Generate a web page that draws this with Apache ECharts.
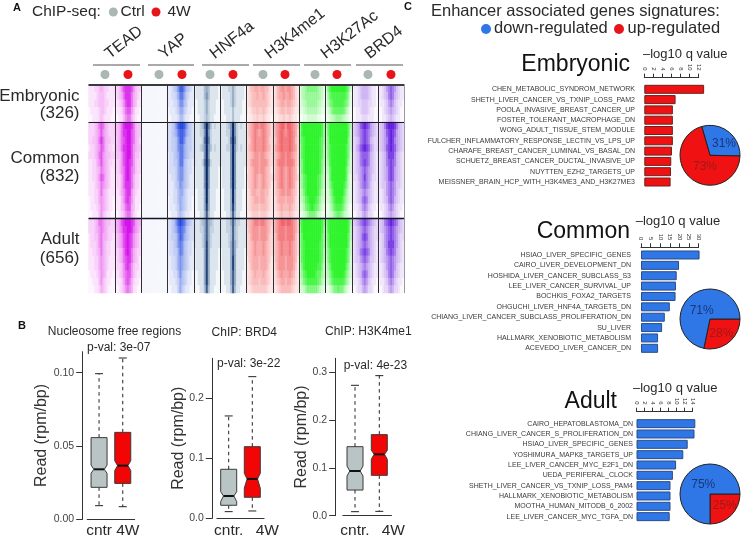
<!DOCTYPE html>
<html><head><meta charset="utf-8">
<style>html,body{margin:0;padding:0;background:#fff}#c{width:742px;height:535px}</style>
<script src="https://cdn.jsdelivr.net/npm/echarts@6/dist/echarts.min.js"></script>
</head><body><div id="c"></div>
<script>
// ---------- Panel A: heat intensity read by eye, one string per row band (0-9), rows: 5 Embryonic, 13 Common, 10 Adult
const blockRows = [5, 13, 10];
const blockNames = ['Embryonic', 'Common', 'Adult'];
const blockCounts = ['(326)', '(832)', '(656)'];
const markNames = ['TEAD', 'YAP', 'HNF4a', 'H3K4me1', 'H3K27Ac', 'BRD4'];
const TEAD_ctrl = ["1112234322111","1111233321111","1112233322111","0111123321110","0011123211100",
"2223467643222","2223457543222","2233468643322","1223457643221","2223467543322","1122457543221","1122346543211","1122357643211","1112346543211","1112246432111","0112245432110","0111235432110","0011135321100",
"2223466543322","2223456543222","1223356443221","1222356432211","1122346432211","1112245432111","1112245432111","0111235431110","0011135321100","0001124321000"];
const TEAD_4W = ["2235788875322","1234688864321","1123578864311","0112467753110","0011356642100",
"3346899986433","3346889976433","2346789976432","3346889975433","2335789975332","2235789875322","2235689865322","1224689864221","1224688864221","1124578853211","1113578753111","0113467743110","0012356642100",
"4457899987544","3456889986543","2345789875432","2345789875432","2234689864322","1234678864321","1223578753221","1123567753211","0112467642110","0012356541100"];
const YAP_ctrl = ["0000000000000","0000000000000","0000000000000","0000000000000","0000000000000",
"0000000000000","0000000000000","0000000000000","0000000000000","0000000000000","0000000000000","0000000000000","0000000000000","0000000000000","0000000000000","0000000000000","0000000000000","0000000000000",
"0000000000000","0000000000000","0000000000000","0000000000000","0000000000000","0000000000000","0000000000000","0000000000000","0000000000000","0000000000000"];
const YAP_4W = ["1123468864321","1122357753211","1112246643111","0111235532110","0011124421100",
"2234689986432","2234578875432","2233468864332","2233467754332","1223457754322","1223357743221","1222356643221","1122356643211","1112346543211","1112245532111","0112245432110","0111235432110","0011134321100",
"2234689875432","2234578764322","2233468754322","1223467643221","1223357643221","1122356543211","1122356543211","0112246432110","0111235432110","0011135321100"];
const HNF4a_ctrl = ["0111134311110","0111135311110","0011124211100","0011124211100","0001123211000",
"1112369631211","1112259521111","1111269621111","1112359531211","1111159511111","1111269621111","0111159511110","0111159511110","0111159511110","0011149411100","0011149411100","0011148411100","0001137311000",
"1112347432111","1112247422111","1111247421111","1111248421111","0111148411110","0111148411110","0111148411110","0011148411100","0011148411100","0001137311000"];
const HNF4a_4W = ["0111224211110","0111124211110","0011124211100","0011113111100","0001113111000",
"1112359521211","1112259521111","1111269621111","1112259521211","1111159511111","1111159511111","0111159511110","0111159511110","0111159511110","0011149411100","0011149411100","0011148411100","0001137311000",
"1112247422111","1112237321111","1111237321111","1111247421111","0111147411110","0111148411110","0111148411110","0011147411100","0011147411100","0001137311000"];
const H3K4me1_ctrl = ["1244554554421","1234454454321","1234444444321","1123343343211","0112232232110",
"2456776776542","2456765676542","2356766676532","2456766676542","2345665665432","2356665666532","1345665665431","2345654565432","1345654565431","1245544554421","1234554554321","1234443444321","1123332333211",
"3456776776543","2456665666542","2356665666532","2345655565432","2345655565432","1345554555431","1245554555421","1234544454321","1234443444321","1123333333211"];
const H3K4me1_4W = ["1245665665421","1245565565421","1234554554321","1123443443211","0112232232110",
"3567886887653","2567876787652","2467877787642","2567877787652","2456776776542","2467776777642","1456765676541","2456765676542","1356765676531","1345665665431","1245554555421","1234544454321","1123433343211",
"3567887887653","3567776777653","2467776777642","2456766676542","2456766676542","1456665666541","1356665666531","1245655565421","1234554554321","1123444443211"];
const H3K27Ac_ctrl = ["1345666665431","1345555555431","1234555554321","1123444443211","0011222221100",
"5899999999985","5899999999985","5789999999875","4789999999874","4789999999874","4689999999864","3689999999863","3578999998753","3578999998753","2468999998642","2357899987532","1246789876421","0123566653210",
"6899999999986","5899999999985","5799999999975","5789999999875","4789999999874","4789999999874","3689999998863","3578999987753","2467888887642","1235666665321"];
const H3K27Ac_4W = ["2689999999862","1578888888751","1467888887641","0246777776420","0123455543210",
"4799999999974","3799999999973","3699999999963","3689999999863","2689999999862","2589999999852","2479999999742","1379999999731","1368999998631","1257999997521","1246899986421","0135788875310","0123567653210",
"5899999999985","4899999999984","4799999999974","3799999999973","3689999999863","2689999999862","2579999999752","2468999998642","1357888887531","0124667664210"];
const BRD4_ctrl = ["0112344432110","0112344432110","0112233322110","0011233321100","0011122211100",
"2345789875432","2345678765432","2234678764322","2245789875422","1234677764321","1234678764321","1234567654321","1224568654221","1123567653211","1123456543211","1123467643211","0112356532110","0012245422100",
"2345678765432","2234567654322","2234578754322","1234567654321","1234678764321","1233567653321","1123456543211","1123467643211","0112356532110","0012245422100"];
const BRD4_4W = ["1123567653211","1123467643211","0112356532110","0012345432100","0011234321100",
"2346899986432","2345789875432","2345689865432","2345789875432","1234688864321","1234678764321","1234578754321","1234578754321","1233567653321","1123567653211","1123467643211","0112356532110","0012345432100",
"2346789876432","2345678765432","2235678765322","1235688865321","1234678764321","1234567654321","1123567653211","1123467643211","0112356532110","0012245422100"];
const heatPanels = [TEAD_ctrl, TEAD_4W, YAP_ctrl, YAP_4W, HNF4a_ctrl, HNF4a_4W, H3K4me1_ctrl, H3K4me1_4W, H3K27Ac_ctrl, H3K27Ac_4W, BRD4_ctrl, BRD4_4W];

// ---------- Panel B: box values [low whisker, q1, notch low, median, notch high, q3, high whisker]
const boxCats1 = ['cntr', '4W'];
const boxCats2 = ['cntr.', '4W'];
const nfr_cntr = [0.0093, 0.0218, 0.0314, 0.0341, 0.0370, 0.0557, 0.0993];
const nfr_4W   = [0.0086, 0.0245, 0.0332, 0.0366, 0.0400, 0.0593, 0.1100];
const brd4_cntr = [0.0111, 0.0217, 0.0278, 0.0372, 0.0444, 0.0817, 0.1706];
const brd4_4W   = [0.0122, 0.0350, 0.0500, 0.0656, 0.0750, 0.1194, 0.2361];
const h3k_cntr = [0.0084, 0.0537, 0.0830, 0.0935, 0.1040, 0.1444, 0.2728];
const h3k_4W   = [0.0091, 0.0844, 0.1180, 0.1284, 0.1370, 0.1696, 0.2930];
const boxTicks1 = [0, 0.05, 0.10];
const boxTicks2 = [0, 0.1, 0.2];
const boxTicks3 = [0, 0.1, 0.2, 0.3];

// ---------- Panel C
const embTerms = ['CHEN_METABOLIC_SYNDROM_NETWORK','SHETH_LIVER_CANCER_VS_TXNIP_LOSS_PAM2','POOLA_INVASIVE_BREAST_CANCER_UP','FOSTER_TOLERANT_MACROPHAGE_DN','WONG_ADULT_TISSUE_STEM_MODULE','FULCHER_INFLAMMATORY_RESPONSE_LECTIN_VS_LPS_UP','CHARAFE_BREAST_CANCER_LUMINAL_VS_BASAL_DN','SCHUETZ_BREAST_CANCER_DUCTAL_INVASIVE_UP','NUYTTEN_EZH2_TARGETS_UP','MEISSNER_BRAIN_HCP_WITH_H3K4ME3_AND_H3K27ME3'];
const embValues = [13.2, 6.9, 6.3, 6.3, 6.3, 6.3, 6.1, 5.95, 5.9, 5.8];
const comTerms = ['HSIAO_LIVER_SPECIFIC_GENES','CAIRO_LIVER_DEVELOPMENT_DN','HOSHIDA_LIVER_CANCER_SUBCLASS_S3','LEE_LIVER_CANCER_SURVIVAL_UP','BOCHKIS_FOXA2_TARGETS','OHGUCHI_LIVER_HNF4A_TARGETS_DN','CHIANG_LIVER_CANCER_SUBCLASS_PROLIFERATION_DN','SU_LIVER','HALLMARK_XENOBIOTIC_METABOLISM','ACEVEDO_LIVER_CANCER_DN'];
const comValues = [30.5, 19.8, 18.6, 18.2, 18, 15, 12.4, 11, 8.9, 8.9];
const adlTerms = ['CAIRO_HEPATOBLASTOMA_DN','CHIANG_LIVER_CANCER_S_PROLIFERATION_DN','HSIAO_LIVER_SPECIFIC_GENES','YOSHIMURA_MAPK8_TARGETS_UP','LEE_LIVER_CANCER_MYC_E2F1_DN','UEDA_PERIFERAL_CLOCK','SHETH_LIVER_CANCER_VS_TXNIP_LOSS_PAM4','HALLMARK_XENOBIOTIC_METABOLISM','MOOTHA_HUMAN_MITODB_6_2002','LEE_LIVER_CANCER_MYC_TGFA_DN'];
const adlValues = [14.7, 14.5, 12.8, 11.7, 9.9, 9.1, 8.5, 8.5, 8.5, 8.3];
const pieEmb = [31, 73];   // down, up
const pieCom = [71, 28];
const pieAdl = [75, 25];

// ---------- styles and layout
const FONT = '"Liberation Sans", Arial, sans-serif';
const INK = '#2a2a2a', GREY = '#aab7b5', RED = '#e8141c', BOXRED = '#f20505', BOXGREY = '#b9c5c5';
const BLUE = '#2f76e6', BLUEDARK = '#2c4c86', BARRED = '#f01212', REDDARK = '#6a2222';
const ramps = [['#fef6fe','#f2a4f4','#d414ea'],['#f6f7fc','#a8b8f0','#2448e4'],['#f4f8fa','#8aa4c0','#0a2566'],['#fff7f6','#f9b4b4','#ee5058'],['#f5fef5','#a8f8a8','#2ef42c'],['#fdf7fe','#c9aef2','#6420e0']];
const HX = 88.5, HW = 316, HY = 85, HH = 208, COLS = 13;

const grid = [], xAxis = [], yAxis = [], series = [], visualMap = [], graphic = [];

// heat grid
const totalRows = blockRows.reduce((a, b) => a + b, 0);
grid.push({left: HX, top: HY, width: HW, height: HH, outerBoundsMode: 'none'});
xAxis.push({type: 'category', gridIndex: 0, show: false, data: Array.from({length: COLS * heatPanels.length}, (_, i) => i)});
yAxis.push({type: 'category', gridIndex: 0, show: false, inverse: true, data: Array.from({length: totalRows}, (_, i) => i)});
heatPanels.forEach((rows, p) => {
  const data = [];
  rows.forEach((s, r) => { for (let c = 0; c < COLS; c++) data.push([p * COLS + c, r, +s[c]]); });
  series.push({type: 'heatmap', xAxisIndex: 0, yAxisIndex: 0, data, progressive: 0, z: 1, itemStyle: {borderWidth: 0}, emphasis: {disabled: true}});
  visualMap.push({show: false, seriesIndex: p, min: 0, max: 9, dimension: 2, inRange: {color: ramps[Math.floor(p / 2)]}});
});
// heat separators
grid.push({left: HX, top: HY, width: HW, height: HH, outerBoundsMode: 'none'});
xAxis.push({type: 'value', gridIndex: 1, show: false, min: 0, max: heatPanels.length});
yAxis.push({type: 'value', gridIndex: 1, show: false, inverse: true, min: 0, max: totalRows});
const vLines = heatPanels.map((_, i) => i).slice(1).map(i => ({xAxis: i, lineStyle: {color: '#2f2f33', width: 1, type: 'solid'}}));
series.push({type: 'line', xAxisIndex: 1, yAxisIndex: 1, data: [], z: 5, silent: true, markLine: {silent: true, symbol: 'none', label: {show: false}, animation: false, data: [
  {yAxis: 0, lineStyle: {color: '#3a3a3e', width: 2, type: 'solid'}},
  {yAxis: blockRows[0], lineStyle: {color: '#1a1a1e', width: 1, type: 'solid'}},
  {yAxis: blockRows[0] + blockRows[1], lineStyle: {color: '#10142a', width: 1.3, type: 'solid'}},
  {xAxis: heatPanels.length, lineStyle: {color: '#9a9a9e', width: 1, type: 'solid'}},
  ...vLines
]}});

// box plots
function boxItem(params, api) {
  const x = api.value(0);
  const v = [1,2,3,4,5,6,7].map(i => api.value(i));
  const fill = x === 0 ? BOXGREY : BOXRED;
  const P = k => api.coord([x, k]);
  const cx = P(v[3])[0], hw = 8, hn = 5.2, capw = 4;
  const y = v.map(k => P(k)[1]);
  const dash = {stroke: '#222', lineWidth: 1, lineDash: [3.5, 3.5]};
  const solid = {stroke: '#222', lineWidth: 1};
  const ln = (x1, y1, x2, y2, st) => ({type: 'line', shape: {x1, y1, x2, y2}, style: st});
  return {type: 'group', children: [
    ln(cx, y[1], cx, y[0], dash), ln(cx, y[5], cx, y[6], dash),
    ln(cx - capw, y[0], cx + capw, y[0], solid), ln(cx - capw, y[6], cx + capw, y[6], solid),
    {type: 'polygon', shape: {points: [[cx - hw, y[1]], [cx + hw, y[1]], [cx + hw, y[2]], [cx + hn, y[3]], [cx + hw, y[4]], [cx + hw, y[5]], [cx - hw, y[5]], [cx - hw, y[4]], [cx - hn, y[3]], [cx - hw, y[2]]]}, style: {fill, stroke: '#3a3a3a', lineWidth: 1}},
    ln(cx - hn, y[3], cx + hn, y[3], {stroke: '#111', lineWidth: 2})
  ]};
}
function addBox(cfg) {
  const i = grid.length;
  grid.push({left: cfg.left, top: cfg.top, width: cfg.width, height: cfg.height, outerBoundsMode: 'none'});
  xAxis.push({type: 'category', gridIndex: i, data: cfg.cats, axisLine: {lineStyle: {color: '#333', width: 1}},
    axisTick: {alignWithLabel: true, length: 4, lineStyle: {color: '#333'}},
    axisLabel: {fontFamily: FONT, fontSize: 15.5, color: INK, margin: cfg.lm, interval: 0, formatter: (v, idx) => idx === 1 ? '{b|' + v + '}' : '{a|' + v + '}', rich: {a: {fontFamily: FONT, fontSize: 15.5, color: INK, padding: [0, cfg.lpad, 0, 0]}, b: {fontFamily: FONT, fontSize: 15.5, color: INK, padding: [0, 0, 0, cfg.rpad]}}}});
  yAxis.push({type: 'value', gridIndex: i, min: 0, max: cfg.max, offset: cfg.offset, splitLine: {show: false},
    axisLine: {show: true, lineStyle: {color: '#333', width: 1}},
    axisTick: {show: true, length: 6.5, customValues: cfg.ticks, lineStyle: {color: '#333'}},
    axisLabel: {fontFamily: FONT, fontSize: 10.5, color: '#444', margin: 8.5, customValues: cfg.ticks, formatter: v => v.toFixed(cfg.dec)},
    name: 'Read (rpm/bp)', nameLocation: 'middle', nameGap: cfg.gap, nameRotate: 90, nameMoveOverlap: false, nameTextStyle: {fontFamily: FONT, fontSize: 16, color: '#333'}});
  series.push({type: 'custom', xAxisIndex: i, yAxisIndex: i, renderItem: boxItem, clip: false, silent: true, encode: {x: 0, y: [1,2,3,4,5,6,7]}, data: cfg.vals.map((v, k) => [k, ...v])});
}
addBox({left: 87.2, top: 351.7, width: 47.4, height: 167.6, max: 0.1143, offset: 4.5, gap: 33, lm: 3, cats: boxCats1, vals: [nfr_cntr, nfr_4W], ticks: boxTicks1, dec: 2, lpad: 0, rpad: 10});
addBox({left: 216.9, top: 358.3, width: 47.2, height: 160, max: 0.2667, offset: 4.6, gap: 26, lm: 4, cats: boxCats2, vals: [brd4_cntr, brd4_4W], ticks: boxTicks2, dec: 1, lpad: 0, rpad: 30});
addBox({left: 342.85, top: 358.3, width: 48.6, height: 157.4, max: 0.3293, offset: 7.15, gap: 26, lm: 7, cats: boxCats2, vals: [h3k_cntr, h3k_4W], ticks: boxTicks3, dec: 1, lpad: 0, rpad: 28});

// term bars
function addBars(cfg) {
  const i = grid.length;
  grid.push({left: cfg.left, top: cfg.top, width: cfg.width, height: cfg.height, outerBoundsMode: 'none'});
  xAxis.push({type: 'value', gridIndex: i, position: 'top', min: 0, max: cfg.max, interval: cfg.interval, offset: cfg.offset, splitLine: {show: false},
    axisLine: {show: true, lineStyle: {color: '#333', width: 1}}, axisTick: {show: true, length: 4, lineStyle: {color: '#333'}},
    axisLabel: {rotate: 90, fontFamily: FONT, fontSize: 6, color: '#333', margin: 7, showMinLabel: true, showMaxLabel: true, hideOverlap: false, interval: 0}});
  yAxis.push({type: 'category', gridIndex: i, inverse: true, data: cfg.terms, axisLine: {show: false}, axisTick: {show: false},
    axisLabel: {fontFamily: FONT, fontSize: 7, color: '#3a3a3a', margin: cfg.margin, interval: 0}});
  series.push({type: 'bar', xAxisIndex: i, yAxisIndex: i, data: cfg.values, barWidth: 9, clip: false, silent: true,
    itemStyle: {color: cfg.color, borderColor: cfg.border, borderWidth: 1}});
}
addBars({left: 644.3, top: 84.15, width: 54.4, height: 103, max: 12, interval: 2, offset: 6.5, margin: 9.3, terms: embTerms, values: embValues, color: BARRED, border: REDDARK});
addBars({left: 641, top: 249.8, width: 57.6, height: 103.7, max: 30, interval: 5, offset: 2.5, margin: 10, terms: comTerms, values: comValues, color: BLUE, border: BLUEDARK});
addBars({left: 636.5, top: 418.5, width: 56, height: 103.3, max: 14, interval: 2, offset: 6.8, margin: 3.5, terms: adlTerms, values: adlValues, color: BLUE, border: BLUEDARK});

// pies
function addPie(cfg) {
  series.push({type: 'pie', center: cfg.center, radius: [0, 30], startAngle: cfg.start, silent: true, avoidLabelOverlap: false,
    labelLine: {show: false}, itemStyle: {borderColor: '#222', borderWidth: 1},
    label: {position: 'inside', formatter: '{c}%', fontFamily: FONT, fontSize: 12},
    labelLayout: p => ({dx: cfg.shift[p.dataIndex][0], dy: cfg.shift[p.dataIndex][1]}),
    data: cfg.order.map(o => ({value: cfg.vals[o], itemStyle: {color: o === 0 ? BLUE : BARRED}, label: {color: o === 0 ? '#1a3678' : '#a01818'}}))});
}
addPie({center: [710, 155.3], start: 106, vals: pieEmb, order: [0, 1], shift: [[3, 3], [6, -3]]});
addPie({center: [710, 319], start: 0, vals: pieCom, order: [1, 0], shift: [[0, 1], [3, 5.7]]});
addPie({center: [710, 494], start: 0, vals: pieAdl, order: [1, 0], shift: [[2, -1.3], [6, 3]]});

// free text and key marks
function T(x, y, text, size, o) {
  o = o || {};
  graphic.push({type: 'text', x, y, rotation: o.rot || 0, silent: true, z: 10, style: {text, fontFamily: FONT, fontSize: size, fontWeight: o.bold ? 'bold' : 'normal', fill: o.fill || INK, align: o.align || 'left', verticalAlign: o.va || 'middle'}});
}
function dot(x, y, r, fill) { graphic.push({type: 'circle', silent: true, z: 10, shape: {cx: x, cy: y, r}, style: {fill}}); }
function rule(x1, x2, y) { graphic.push({type: 'line', silent: true, z: 10, shape: {x1, y1: y, x2, y2: y}, style: {stroke: '#555', lineWidth: 1}}); }

T(13, 8, 'A', 11, {bold: true, fill: '#111'});
T(18, 326, 'B', 11, {bold: true, fill: '#111'});
T(404, 7, 'C', 11, {bold: true, fill: '#111'});
T(32, 12, 'ChIP-seq:', 15.5);
dot(113.3, 12, 4.5, GREY); T(120.5, 12, 'Ctrl', 15.5);
dot(156, 12, 4.5, RED); T(167.5, 12, '4W', 15.5);

const titleStarts = [112, 166, 217, 272, 328, 372];
const ruleSpans = [[93,140],[148,194],[202,249],[253,300],[304,351],[356,403]];
const dotX = [105,128,159,182,210,233,263,285,315,337,368,391];
markNames.forEach((m, i) => {
  T(titleStarts[i], 62, m, 16, {rot: 38 * Math.PI / 180, va: 'bottom'});
  rule(ruleSpans[i][0], ruleSpans[i][1], 65);
});
dotX.forEach((x, i) => dot(x, 74.5, 4.5, i % 2 ? RED : GREY));

[[96.7, 113], [158, 176.7], [239, 258]].forEach((ys, i) => {
  T(79.5, ys[0], blockNames[i], 17, {align: 'right'});
  T(79.5, ys[1], blockCounts[i], 17, {align: 'right'});
});

T(114.5, 332, 'Nucleosome free regions', 12, {align: 'center'});
T(87, 348, 'p-val: 3e-07', 12);
T(244.3, 332.7, 'ChIP: BRD4', 12, {align: 'center'});
T(217, 364, 'p-val: 3e-22', 12);
T(325, 331.7, 'ChIP: H3K4me1', 12);
T(343.7, 366, 'p-val: 4e-23', 12);

T(431, 11.7, 'Enhancer associated genes signatures:', 16.5);
dot(486, 29, 5, BLUE); T(494, 28.7, 'down-regulated', 16.5);
dot(619, 29, 5, RED); T(627.5, 28.7, 'up-regulated', 16.5);
T(630, 65, blockNames[0], 23, {align: 'right', fill: '#111'});
T(630, 232, blockNames[1], 23, {align: 'right', fill: '#111'});
T(617, 401.7, blockNames[2], 23, {align: 'right', fill: '#111'});
T(643, 54, '\u2013log10 q value', 13);
T(635.7, 221.7, '\u2013log10 q value', 13);
T(633, 388, '\u2013log10 q value', 13);

const chart = echarts.init(document.getElementById('c'), null, {renderer: 'canvas'});
chart.setOption({backgroundColor: '#fff', animation: false, tooltip: {show: false}, grid, xAxis, yAxis, visualMap, series, graphic});
</script></body></html>
